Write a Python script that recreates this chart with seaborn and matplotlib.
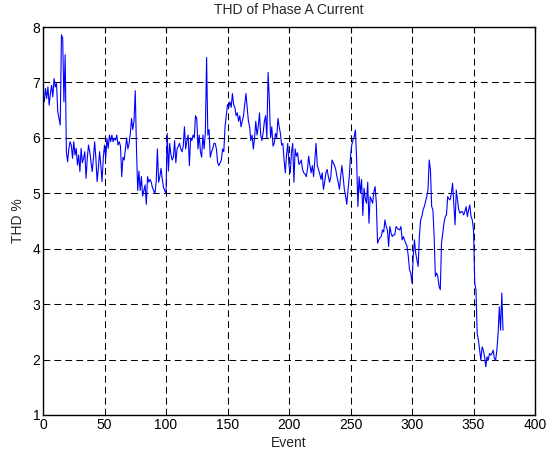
import matplotlib
matplotlib.use("Agg")
import matplotlib.pyplot as plt
import seaborn as sns

# ── data ─────────────────────────────────────────────────────────────────────

THD_A = [
    6.65, 6.89, 6.71, 6.92, 6.59, 6.80, 6.95, 6.74, 7.07, 6.92,
    6.98, 6.47, 6.35, 6.23, 7.86, 7.80, 6.65, 7.50, 5.75, 5.57,
    5.80, 5.93, 5.87, 5.63, 5.93, 5.69, 5.81, 5.51, 5.69, 5.39,
    5.81, 5.55, 5.63, 5.75, 5.27, 5.63, 5.87, 5.75, 5.57, 5.39,
    5.63, 5.93, 5.63, 5.21, 5.45, 5.75, 5.51, 5.21, 5.63, 5.87,
    5.63, 5.99, 5.81, 6.05, 5.93, 6.05, 5.93, 5.99, 5.96, 6.05,
    5.87, 5.93, 5.85, 5.30, 5.65, 5.60, 5.80, 6.00, 5.80, 5.90,
    6.08, 6.35, 6.15, 6.30, 6.85, 5.80, 5.05, 5.40, 5.05, 5.30,
    4.95, 5.05, 5.15, 4.80, 5.30, 5.20, 5.25, 5.20, 5.10, 5.05,
    5.00, 5.20, 5.80, 5.20, 5.30, 5.45, 5.25, 5.10, 5.05, 5.00,
    6.08, 5.40, 5.90, 5.70, 5.60, 5.65, 5.95, 5.55, 5.80, 5.85,
    5.90, 5.80, 5.75, 5.85, 6.20, 5.80, 5.95, 6.05, 5.50, 6.00,
    5.95, 6.05, 6.00, 6.40, 6.35, 5.80, 6.05, 5.75, 5.65, 6.05,
    5.80, 6.10, 7.45, 6.05, 6.15, 5.65, 5.75, 5.80, 5.90, 5.90,
    5.80, 5.55, 5.50, 5.55, 5.60, 5.80, 5.75, 6.20, 6.40, 6.60,
    6.55, 6.65, 6.55, 6.80, 6.60, 6.55, 6.40, 6.45, 6.30, 6.40,
    6.20, 6.30, 6.40, 6.60, 6.80, 6.55, 6.30, 6.20, 5.95, 6.05,
    5.80, 6.00, 6.30, 6.05, 6.20, 6.45, 6.05, 5.95, 6.10, 6.30,
    6.40, 6.00, 7.18, 6.70, 6.00, 6.20, 5.85, 5.90, 6.08, 6.00,
    6.35, 6.20, 6.08, 5.87, 5.90, 5.60, 5.37, 5.70, 5.90, 5.50,
    5.37, 5.73, 5.90, 5.20, 5.80, 5.67, 5.73, 5.52, 5.55, 5.60,
    5.43, 5.37, 5.35, 5.30, 5.43, 5.67, 5.50, 5.37, 5.50, 5.30,
    5.60, 5.90, 5.50, 5.43, 5.35, 5.25, 5.37, 5.07, 5.20, 5.37,
    5.43, 5.30, 5.20, 5.30, 5.60, 5.55, 5.50, 5.43, 5.30, 5.20,
    5.07, 5.30, 5.50, 5.30, 5.07, 4.95, 4.80, 5.07, 5.30, 5.67,
    5.87, 5.96, 6.02, 6.14, 5.60, 4.76, 5.30, 5.00, 5.25, 4.60,
    5.09, 4.90, 4.82, 5.20, 4.46, 4.94, 4.88, 4.82, 5.03, 5.12,
    4.82, 4.10, 4.16, 4.20, 4.22, 4.34, 4.30, 4.52, 4.40, 4.34,
    4.04, 4.40, 4.28, 4.22, 4.25, 4.25, 4.40, 4.37, 4.35, 4.34,
    4.40, 4.16, 4.22, 4.15, 4.10, 4.04, 3.86, 3.62, 3.56, 3.38,
    3.86, 4.16, 3.92, 3.80, 3.68, 4.22, 4.52, 4.58, 4.70, 4.76,
    4.85, 4.94, 5.06, 5.60, 5.42, 4.76, 4.70, 4.22, 3.50, 3.56,
    3.50, 3.32, 3.26, 4.10, 4.28, 4.46, 4.58, 4.61, 4.94, 4.90,
    4.88, 5.00, 5.18, 4.82, 4.43, 5.06, 4.88, 4.70, 4.64, 4.67,
    4.67, 4.61, 4.67, 4.76, 4.58, 4.70, 4.79, 4.58, 4.52, 4.34,
    3.38, 3.26, 2.47, 2.35, 2.17, 1.99, 2.23, 2.17, 2.05, 1.87,
    2.05, 1.99, 2.11, 2.08, 2.11, 2.17, 2.02, 1.99, 2.17, 2.47,
    2.95, 2.53, 3.20, 2.53,
]
EVENTS = list(range(1, len(THD_A) + 1))

X_TICKS = [0, 50, 100, 150, 200, 250, 300, 350, 400]
Y_TICKS = [1, 2, 3, 4, 5, 6, 7, 8]


def main() -> None:
    sns.set_style("white")
    plt.rcParams["font.family"] = ["Liberation Sans", "DejaVu Sans"]
    plt.rcParams["font.size"] = 10

    fig = plt.figure(figsize=(5.47, 4.57), dpi=100)
    ax = fig.add_axes([43 / 547, 42 / 457, 492 / 547, 388 / 457])

    sns.lineplot(x=EVENTS, y=THD_A, color="#0000ff", linewidth=0.8, ax=ax)

    ax.set_xlim(0, 400)
    ax.set_ylim(1, 8)
    ax.set_xticks(X_TICKS)
    ax.set_yticks(Y_TICKS)
    ax.grid(True, color="black", linestyle=(0, (6.5, 4)), linewidth=0.75)
    ax.tick_params(direction="in", length=4, width=0.8, top=True, right=True,
                   colors="black", labelsize=10, pad=2)
    for sp in ax.spines.values():
        sp.set_visible(True)
        sp.set_color("black")
        sp.set_linewidth(1.0)

    ax.set_title("THD of Phase A Current", fontsize=10, pad=9)
    ax.set_xlabel("Event", fontsize=10, labelpad=3)
    ax.set_ylabel("THD %", fontsize=10, labelpad=5)

    fig.savefig("out.png", dpi=100, facecolor="white")
    plt.close(fig)


if __name__ == "__main__":
    main()
